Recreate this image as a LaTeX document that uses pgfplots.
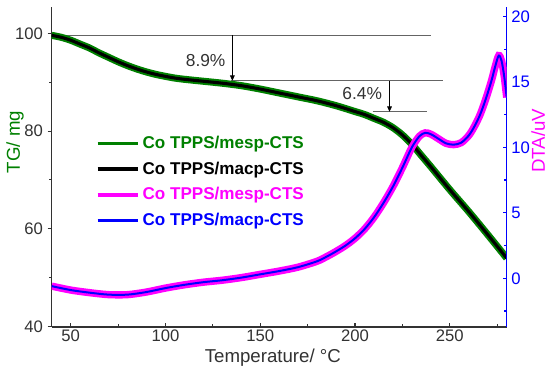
\documentclass[border=0pt]{standalone}
\usepackage{fontspec}
\setmainfont{Liberation Sans}
\usepackage{pgfplots}
\pgfplotsset{compat=1.18}
\usetikzlibrary{arrows.meta}
\definecolor{tggreen}{RGB}{0,128,0}
\definecolor{dtamag}{RGB}{255,0,255}
\definecolor{dtablue}{RGB}{0,0,255}
\definecolor{annot}{RGB}{100,100,100}
\definecolor{axgray}{RGB}{50,50,50}

\pgfplotstableread{
x y
40 99.6
45 99.2
50 98.6
55 97.8
60 97.0
65 96.0
70 95.1
75 94.2
80 93.4
85 92.7
90 92.1
95 91.6
100 91.2
105 90.85
110 90.6
120 90.2
130 89.8
140 89.3
150 88.6
160 87.8
170 87.0
180 86.2
190 85.2
200 84.0
205 83.4
210 82.6
215 81.8
220 80.7
225 79.2
230 77.3
235 75.0
240 72.7
250 68.0
260 63.5
270 58.8
280 54.0
}\tgdata

\pgfplotstableread{
x y
40 -0.6
50 -0.9
60 -1.1
70 -1.25
80 -1.25
90 -1.05
100 -0.75
110 -0.5
120 -0.3
130 -0.15
140 0.05
150 0.3
160 0.55
170 0.85
180 1.3
185 1.65
190 2.05
195 2.5
200 3.05
205 3.75
210 4.65
215 5.75
220 7.0
225 8.45
230 10.0
234 10.85
237 11.1
240 11.0
244 10.65
248 10.3
252 10.2
256 10.35
260 10.9
263 11.6
266 12.5
269 13.7
272 15.1
274 16.2
275.8 17.0
277.3 16.6
278.7 15.4
280 13.8
}\dtadata

\begin{document}
\begin{tikzpicture}
\begin{axis}[
  scale only axis, width=341.25pt, height=240pt,
  at={(0,0)}, anchor=south west,
  xmin=40, xmax=280, ymin=39.9, ymax=105.4,
  axis x line*=bottom, axis y line*=left,
  axis line style={axgray, line width=0.8pt, -},
  xtick={50,100,...,250}, minor xtick={75,125,...,275},
  ytick={40,60,80,100}, minor ytick={50,70,90},
  xtick align=inside, ytick align=outside,
  major tick length=3pt, minor tick length=2pt,
  tick style={axgray, line width=0.8pt},
  tick label style={font=\fontsize{12.5}{14}\selectfont, text=axgray},
  xticklabel style={yshift=1.5pt},
  /pgf/number format/assume math mode=true,
  xlabel={Temperature/ °C}, ylabel={TG/ mg},
  xlabel style={font=\fontsize{14}{16}\selectfont, text=axgray, at={(axis description cs:0.486,-0.097)}, anchor=center},
  ylabel style={font=\fontsize{14}{16}\selectfont, text=tggreen, at={(axis description cs:-0.0807,0.578)}, anchor=center},
]
\draw[annot, line width=0.6pt] (axis cs:40,99.65) -- (axis cs:239.9,99.65);
\draw[annot, line width=0.6pt] (axis cs:134.4,90.3) -- (axis cs:246.6,90.3);
\draw[annot, line width=0.6pt] (axis cs:209.3,83.95) -- (axis cs:237.8,83.95);
\draw[black, line width=0.6pt, -{Triangle[length=4pt,width=3.5pt]}] (axis cs:135.3,99.65) -- (axis cs:135.3,90.3);
\draw[black, line width=0.6pt, -{Triangle[length=4pt,width=3.5pt]}] (axis cs:218.2,90.3) -- (axis cs:218.2,83.95);
\node[font=\fontsize{13}{15}\selectfont, text=axgray] at (axis cs:121.2,94.5) {8.9\%};
\node[font=\fontsize{13}{15}\selectfont, text=axgray] at (axis cs:203.8,87.7) {6.4\%};
\addplot[tggreen, line width=5.3pt, smooth] table[x=x,y=y] {\tgdata};
\addplot[black, line width=2.3pt, smooth] table[x=x,y=y] {\tgdata};
\end{axis}

\begin{axis}[
  scale only axis, width=341.25pt, height=240pt,
  at={(0,0)}, anchor=south west,
  xmin=40, xmax=280, ymin=-3.72, ymax=20.71,
  axis x line=none, axis y line*=right,
  axis line style={dtablue, line width=0.8pt, -},
  ytick={0,5,...,20}, minor ytick={-2.5,2.5,...,17.5},
  ytick align=inside,
  major tick length=3pt, minor tick length=2pt,
  tick style={dtablue, line width=0.8pt},
  yticklabel style={font=\fontsize{12.5}{14}\selectfont, text=dtablue},
  /pgf/number format/assume math mode=true,
  ylabel={DTA/uV},
  ylabel style={font=\fontsize{14}{16}\selectfont, text=dtamag, at={(axis description cs:1.069,0.582)}, anchor=center},
  legend image code/.code={\draw[#1, line width=2.6pt] (0cm,0cm) -- (1.05cm,0cm);},
  legend cell align=left,
  legend style={at={(axis description cs:0.088,0.615)}, anchor=north west, draw=none, fill=none,
    font=\bfseries\fontsize{12.8}{14}\selectfont, row sep=3.4pt,
    nodes={inner sep=2.5pt}},
]
\addlegendimage{tggreen}
\addlegendentry{\textcolor{tggreen}{Co TPPS/mesp-CTS}}
\addlegendimage{black}
\addlegendentry{\textcolor{black}{Co TPPS/macp-CTS}}
\addplot[dtamag, line width=5.5pt, smooth] table[x=x,y=y] {\dtadata};
\addlegendentry{\textcolor{dtamag}{Co TPPS/mesp-CTS}}
\addplot[dtablue, line width=1.5pt, smooth] table[x=x,y=y] {\dtadata};
\addlegendentry{\textcolor{dtablue}{Co TPPS/macp-CTS}}
\end{axis}
\pgfresetboundingbox
\path (-38.78pt,-33pt) rectangle (373.73pt,245.25pt);
\end{tikzpicture}
\end{document}
